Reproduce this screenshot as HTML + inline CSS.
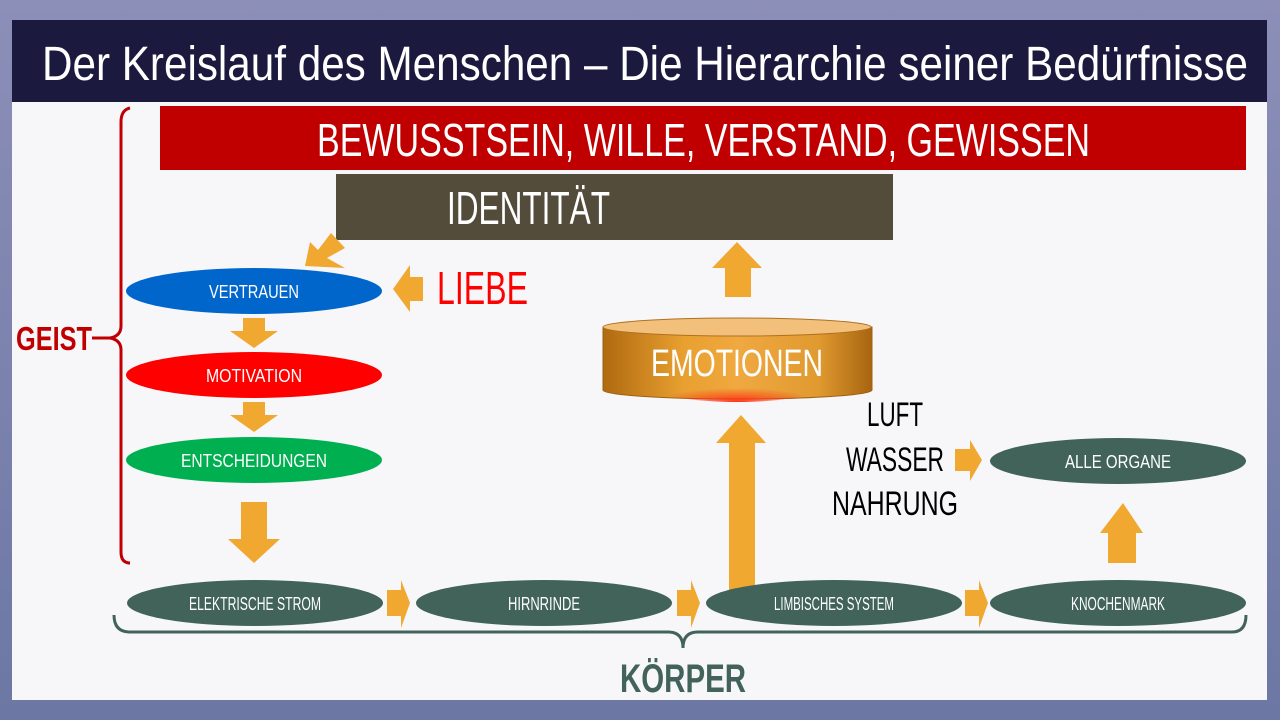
<!DOCTYPE html>
<html><head><meta charset="utf-8"><style>
html,body{margin:0;padding:0;width:1280px;height:720px;overflow:hidden;background:#8a8fb4}
svg{display:block}
text{font-family:"Liberation Sans",sans-serif}
</style></head><body>
<svg width="1280" height="720" viewBox="0 0 1280 720" xmlns="http://www.w3.org/2000/svg">
<defs>
<linearGradient id="bg" x1="0" y1="0" x2="0" y2="1"><stop offset="0" stop-color="#8c8fb8"/><stop offset="1" stop-color="#6c77a4"/></linearGradient>
<linearGradient id="cyl" x1="0" y1="0" x2="1" y2="0"><stop offset="0" stop-color="#b06a10"/><stop offset="0.3" stop-color="#e8a030"/><stop offset="0.5" stop-color="#f0a840"/><stop offset="0.8" stop-color="#e09a30"/><stop offset="1" stop-color="#a86410"/></linearGradient>
<radialGradient id="hot" cx="0.5" cy="1" r="0.5"><stop offset="0" stop-color="#ff3010"/><stop offset="1" stop-color="#ff3010" stop-opacity="0"/></radialGradient>
</defs>
<rect width="1280" height="720" fill="url(#bg)"/>
<rect x="12" y="20" width="1255" height="680" fill="#f7f7fa"/>
<rect x="12" y="20" width="1255" height="82" fill="#1b1a3e"/>
<text x="42" y="80" font-size="48" fill="#fff" textLength="1206" lengthAdjust="spacingAndGlyphs">Der Kreislauf des Menschen – Die Hierarchie seiner Bedürfnisse</text>

<rect x="160" y="106" width="1086" height="64" fill="#c00000"/>
<text x="317" y="156" font-size="46" fill="#fff" textLength="773" lengthAdjust="spacingAndGlyphs">BEWUSSTSEIN, WILLE, VERSTAND, GEWISSEN</text>
<rect x="336" y="174" width="557" height="66" fill="#544c3a"/>
<text x="447" y="224" font-size="46" fill="#fff" textLength="163" lengthAdjust="spacingAndGlyphs">IDENTITÄT</text>

<!-- left brace -->
<path d="M130 108 Q121 110 121 122 L121 326 Q121 336 110 338 Q121 340 121 350 L121 552 Q121 563 130 563" fill="none" stroke="#c00000" stroke-width="3"/>
<line x1="92" y1="338" x2="112" y2="338" stroke="#c00000" stroke-width="3"/>
<text x="16" y="350" font-size="33" font-weight="bold" fill="#c00000" textLength="76" lengthAdjust="spacingAndGlyphs">GEIST</text>

<!-- left ellipses -->
<ellipse cx="254" cy="291" rx="128" ry="23" fill="#0066cc"/>
<text x="254" y="298" font-size="18" fill="#fff" text-anchor="middle" textLength="90" lengthAdjust="spacingAndGlyphs">VERTRAUEN</text>
<ellipse cx="254" cy="375" rx="128" ry="23" fill="#ff0000"/>
<text x="254" y="382" font-size="18" fill="#fff" text-anchor="middle" textLength="96" lengthAdjust="spacingAndGlyphs">MOTIVATION</text>
<ellipse cx="254" cy="460" rx="128" ry="23" fill="#00b050"/>
<text x="254" y="467" font-size="18" fill="#fff" text-anchor="middle" textLength="146" lengthAdjust="spacingAndGlyphs">ENTSCHEIDUNGEN</text>

<g fill="#f0a830">
<!-- down arrows -->
<polygon points="243,318 265,318 265,331 278,331 254,348 230,331 243,331"/>
<polygon points="243,402 265,402 265,415 278,415 254,432 230,415 243,415"/>
<polygon points="241,502 267,502 267,539 280,539 254,563 228,539 241,539"/>
<!-- diagonal arrow -->
<polygon points="331,233 345,248 327,258 345,268 305,266 310,242 318,250"/>
<!-- liebe arrow -->
<polygon points="423,277 423,301 410,301 410,312 393,289 410,265 410,277"/>
<!-- up to identity -->
<polygon points="725,297 751,297 751,268 762,268 737,242 712,268 725,268"/>
<!-- big up -->
<polygon points="729,590 755,590 755,443 766,443 741,415 716,443 729,443"/>
<!-- right arrow luft -->
<polygon points="955,449 970,449 970,440 982,460 970,481 970,471 955,471"/>
<!-- up to organe -->
<polygon points="1108,563 1136,563 1136,533 1143,533 1123,503 1100,533 1108,533"/>
<!-- bottom right arrows -->
<polygon points="387,590 401,590 401,580 410,603 401,628 401,616 387,616"/>
<polygon points="677,590 691,590 691,580 700,603 691,628 691,616 677,616"/>
<polygon points="965,590 979,590 979,580 988,603 979,628 979,616 965,616"/>
</g>
<text x="437" y="304" font-size="46" fill="#ff0000" textLength="91" lengthAdjust="spacingAndGlyphs">LIEBE</text>

<!-- cylinder -->
<path d="M603 327 L603 390 A134 9 0 0 0 872 390 L872 327 Z" fill="url(#cyl)" stroke="#a06010" stroke-width="1"/>
<ellipse cx="737" cy="388" rx="80" ry="14" fill="url(#hot)"/>
<ellipse cx="737" cy="327" rx="134" ry="9" fill="#f2c07a" stroke="#b07020" stroke-width="1"/>
<text x="737" y="376" font-size="38" fill="#fff" text-anchor="middle" textLength="172" lengthAdjust="spacingAndGlyphs">EMOTIONEN</text>

<text x="895" y="426" font-size="34" fill="#000" text-anchor="middle" textLength="56" lengthAdjust="spacingAndGlyphs">LUFT</text>
<text x="895" y="471" font-size="34" fill="#000" text-anchor="middle" textLength="98" lengthAdjust="spacingAndGlyphs">WASSER</text>
<text x="895" y="515" font-size="34" fill="#000" text-anchor="middle" textLength="126" lengthAdjust="spacingAndGlyphs">NAHRUNG</text>

<g fill="#41635a">
<ellipse cx="1118" cy="461" rx="128" ry="23"/>
<ellipse cx="255" cy="603" rx="128" ry="23"/>
<ellipse cx="544" cy="603" rx="128" ry="23"/>
<ellipse cx="834" cy="603" rx="128" ry="23"/>
<ellipse cx="1118" cy="603" rx="128" ry="23"/>
</g>
<g font-size="18" fill="#fff" text-anchor="middle">
<text x="1118" y="468" textLength="106" lengthAdjust="spacingAndGlyphs">ALLE ORGANE</text>
<text x="255" y="610" textLength="132" lengthAdjust="spacingAndGlyphs">ELEKTRISCHE STROM</text>
<text x="544" y="610" textLength="72" lengthAdjust="spacingAndGlyphs">HIRNRINDE</text>
<text x="834" y="610" textLength="120" lengthAdjust="spacingAndGlyphs">LIMBISCHES SYSTEM</text>
<text x="1118" y="610" textLength="94" lengthAdjust="spacingAndGlyphs">KNOCHENMARK</text>
</g>

<!-- bottom brace -->
<path d="M114 615 Q114 632 130 632 L668 632 Q683 632 683 648 Q683 632 698 632 L1232 632 Q1246 632 1246 615" fill="none" stroke="#41635a" stroke-width="3"/>
<text x="683" y="692" font-size="40" font-weight="bold" fill="#41635a" text-anchor="middle" textLength="126" lengthAdjust="spacingAndGlyphs">KÖRPER</text>
</svg>
</body></html>
